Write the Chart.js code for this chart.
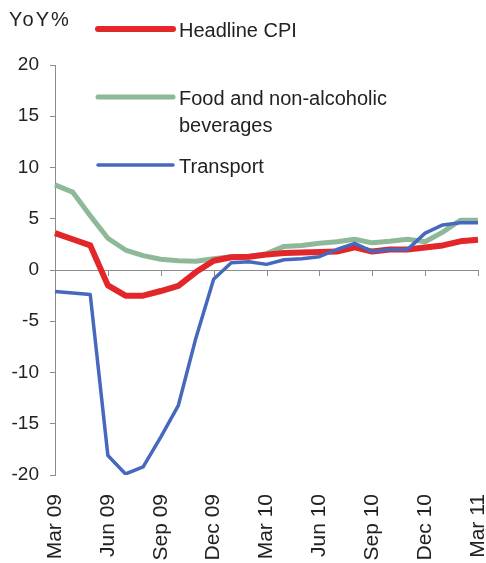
<!DOCTYPE html>
<html>
<head>
<meta charset="utf-8">
<script src="https://cdn.jsdelivr.net/npm/chart.js@4"></script>
<style>
  html, body { margin: 0; padding: 0; background: #fff; }
  #wrap { position: relative; width: 486px; height: 563px; }
</style>
</head>
<body>
<div id="wrap"><canvas id="myChart" width="486" height="563"></canvas></div>
<script>
const months = ['Mar 09', 'Apr 09', 'May 09', 'Jun 09', 'Jul 09', 'Aug 09', 'Sep 09', 'Oct 09', 'Nov 09', 'Dec 09',
    'Jan 10', 'Feb 10', 'Mar 10', 'Apr 10', 'May 10', 'Jun 10', 'Jul 10', 'Aug 10', 'Sep 10', 'Oct 10',
    'Nov 10', 'Dec 10', 'Jan 11', 'Feb 11', 'Mar 11'];
const headlineCPI = [3.6, 3.0, 2.4, -1.5, -2.5, -2.5, -2.05, -1.55, -0.2, 0.9, 1.25, 1.3, 1.5, 1.65, 1.7, 1.75,
    1.8, 2.2, 1.8, 2.0, 2.0, 2.2, 2.4, 2.8, 2.95];
const foodBev = [8.3, 7.6, 5.3, 3.1, 1.95, 1.4, 1.05, 0.9, 0.85, 1.1, 1.3, 1.3, 1.6, 2.3, 2.4, 2.6,
    2.75, 3.0, 2.65, 2.8, 3.0, 2.75, 3.7, 4.85, 4.85];
const transport = [-2.1, -2.25, -2.4, -18.1, -19.9, -19.2, -16.3, -13.2, -6.6, -0.9, 0.7, 0.8, 0.55, 1.0, 1.1, 1.3,
    2.0, 2.6, 1.8, 2.0, 2.0, 3.6, 4.4, 4.6, 4.6];
const yTicks = [-20, -15, -10, -5, 0, 5, 10, 15, 20];

const FONT = '"Liberation Sans", Arial, sans-serif';
const RED = 'rgb(227, 38, 42)';
const GREEN = 'rgb(141, 185, 152)';
const BLUE = 'rgb(70, 104, 189)';
const AXIS = '#8c8c8c';

// legend + "YoY%" label + tick marks on the zero line
const extras = {
    id: 'extras',
    beforeDatasetsDraw(chart) {
        const ctx = chart.ctx;
        const x = chart.scales.x, y = chart.scales.y;
        const y0 = y.getPixelForValue(0);
        ctx.save();
        ctx.strokeStyle = AXIS;
        ctx.lineWidth = 1;
        months.forEach((m, i) => {
            if (i % 3 !== 0) return;
            const px = Math.round(x.getPixelForValue(i)) + 0.5;
            ctx.beginPath();
            ctx.moveTo(px, y0);
            ctx.lineTo(px, y0 + 6);
            ctx.stroke();
        });
        ctx.restore();
    },
    afterDraw(chart) {
        const ctx = chart.ctx;
        ctx.save();
        ctx.fillStyle = '#222';
        ctx.font = '20px ' + FONT;
        ctx.textBaseline = 'middle';
        ctx.textAlign = 'left';
        ctx.letterSpacing = '2px';
        ctx.fillText('YoY%', 9, 20);
        ctx.letterSpacing = '0px';

        const items = [
            {color: RED, width: 6, y: 29, text: ['Headline CPI']},
            {color: GREEN, width: 5, y: 97, text: ['Food and non-alcoholic', 'beverages']},
            {color: BLUE, width: 3.5, y: 165, text: ['Transport']}
        ];
        items.forEach(it => {
            ctx.strokeStyle = it.color;
            ctx.lineWidth = it.width;
            ctx.lineCap = 'round';
            ctx.beginPath();
            ctx.moveTo(98, it.y);
            ctx.lineTo(173, it.y);
            ctx.stroke();
            it.text.forEach((t, k) => ctx.fillText(t, 179, it.y + 2 + k * 27));
        });
        ctx.restore();
    }
};

const context = document.getElementById('myChart').getContext('2d');
const myChart = new Chart(context, {
    type: 'line',
    data: {
        labels: months,
        datasets: [
            {
                label: 'Headline CPI',
                data: headlineCPI,
                borderColor: RED,
                borderWidth: 6,
                order: 2
            },
            {
                label: 'Food and non-alcoholic beverages',
                data: foodBev,
                borderColor: GREEN,
                borderWidth: 5,
                order: 3
            },
            {
                label: 'Transport',
                data: transport,
                borderColor: BLUE,
                borderWidth: 3.5,
                order: 1
            }
        ]
    },
    options: {
        responsive: false,
        animation: false,
        events: [],
        elements: {
            point: {radius: 0},
            line: {tension: 0, fill: false, borderJoinStyle: 'round'}
        },
        layout: {padding: {top: 65, right: 8, left: 0, bottom: 0}},
        plugins: {
            legend: {display: false},
            tooltip: {enabled: false}
        },
        scales: {
            x: {
                offset: false,
                grid: {display: false},
                border: {display: false},
                ticks: {
                    autoSkip: false,
                    minRotation: 90,
                    maxRotation: 90,
                    padding: 11,
                    color: '#222',
                    font: {family: FONT, size: 21},
                    callback: (v, i) => (i % 3 === 0 ? months[i] : '')
                },
                afterFit: s => {
                    s.height = 88;
                    s.paddingLeft = 0;
                    s.paddingRight = 0;
                }
            },
            y: {
                min: -20,
                max: 20,
                afterBuildTicks: s => {
                    s.ticks = yTicks.map(v => ({value: v}));
                },
                border: {display: true, color: AXIS, width: 1},
                grid: {
                    drawOnChartArea: true,
                    color: c => (c.tick && c.tick.value === 0 ? AXIS : 'transparent'),
                    tickColor: AXIS,
                    tickLength: 5
                },
                ticks: {
                    padding: 11,
                    color: '#222',
                    font: {family: FONT, size: 19}
                },
                afterFit: s => {
                    s.width = 55;
                }
            }
        }
    },
    plugins: [extras]
});
</script>
</body>
</html>
